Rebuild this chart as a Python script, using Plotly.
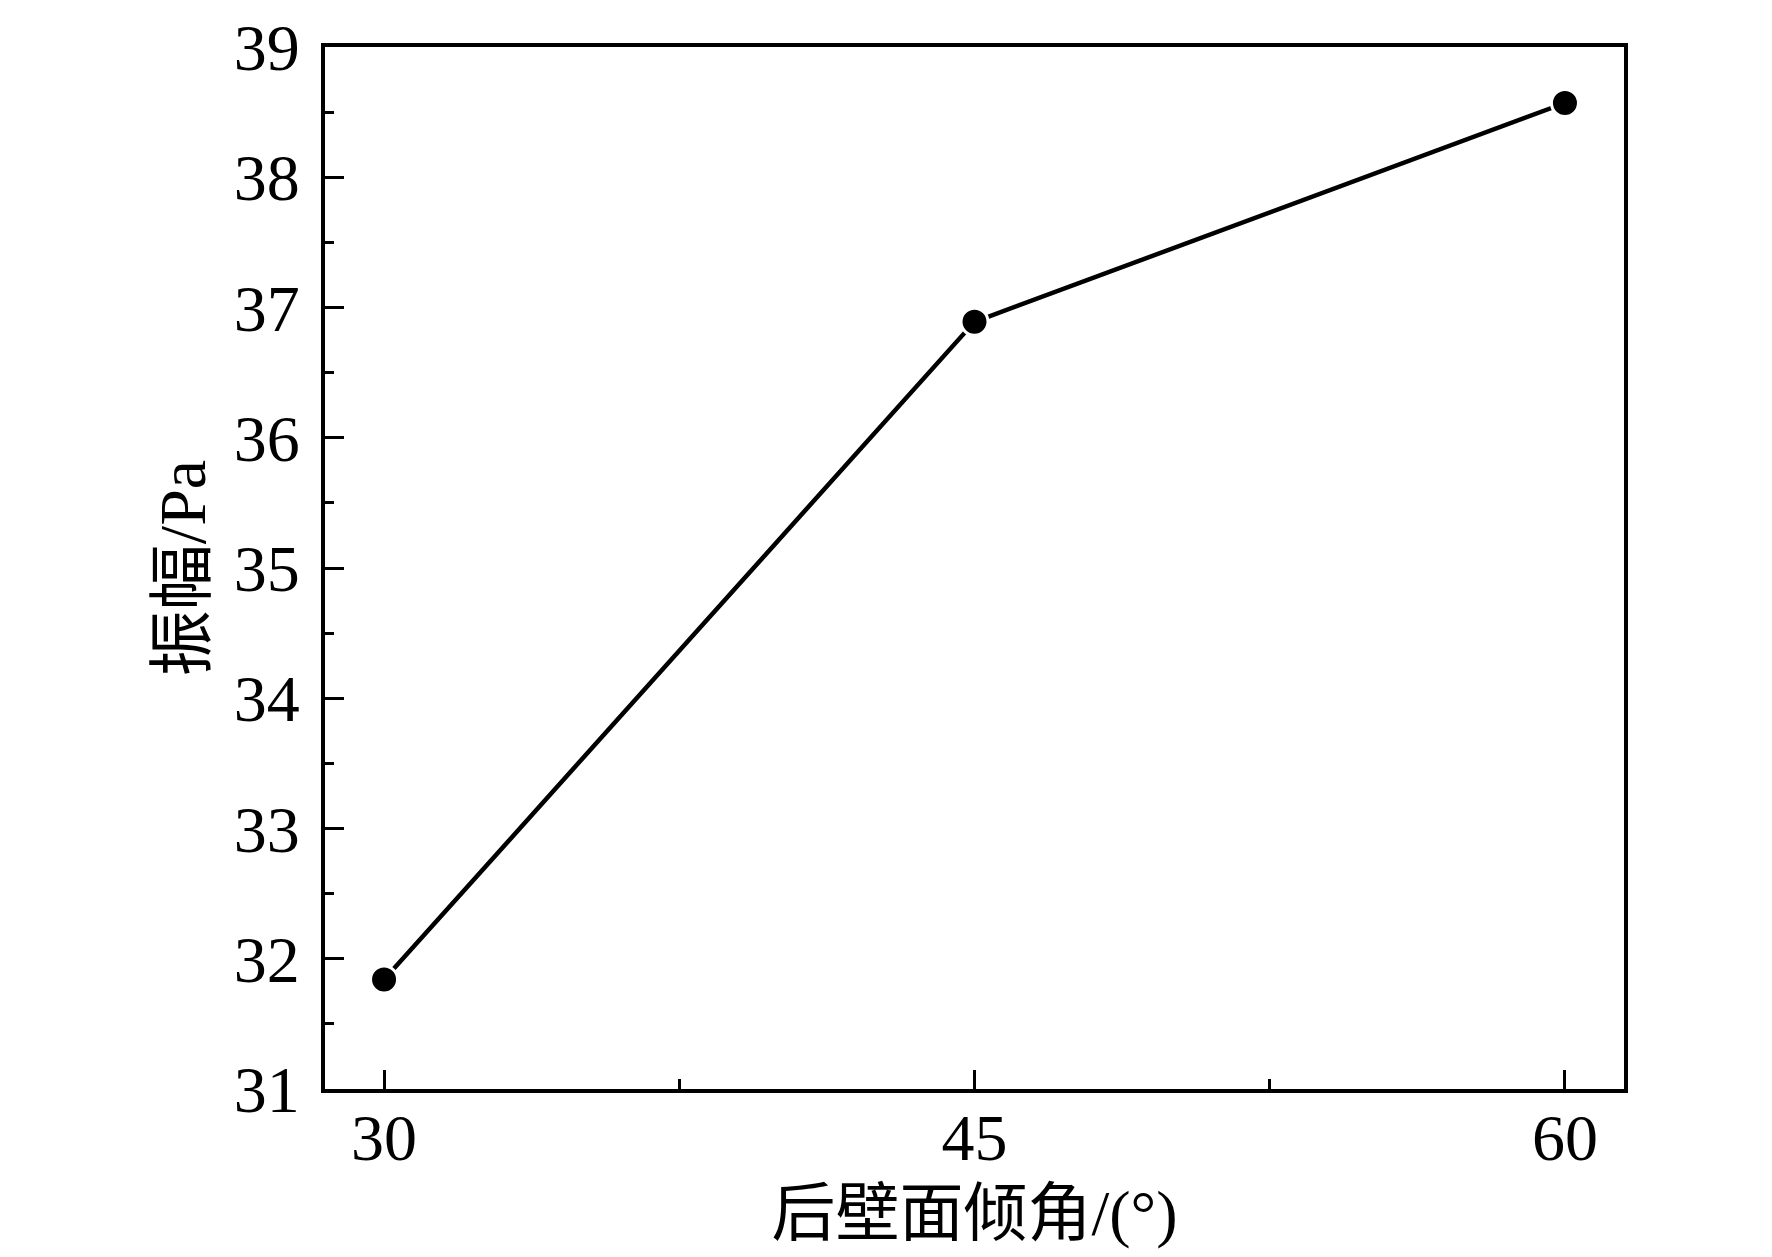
import plotly.graph_objects as go

# 后壁面倾角 vs 振幅
angles = [30, 45, 60]
amplitude = [31.84, 36.89, 38.57]

x_title = '后壁面倾角/(°)'
y_title = '振幅/Pa'

font_family = 'Liberation Serif, Noto Sans CJK SC'

fig = go.Figure()
fig.add_trace(go.Scatter(
    x=angles, y=amplitude,
    mode='lines+markers',
    line=dict(color='black', width=4.5),
    marker=dict(color='black', size=27, line=dict(color='white', width=3)),
    showlegend=False,
))

axis_common = dict(
    showline=True, linecolor='black', linewidth=4, mirror=True,
    showgrid=False, zeroline=False, automargin=False,
    ticks='inside', ticklen=19, tickwidth=3, tickcolor='black',
    ticklabeloverflow='allow',
    tickfont=dict(family=font_family, size=66, color='black'),
)

fig.update_xaxes(
    range=[28.5, 61.5], tick0=30, dtick=15,
    minor=dict(ticks='inside', ticklen=10, tickwidth=3, tickcolor='black', dtick=7.5, tick0=30),
    ticklabelstandoff=-12,
    title=dict(text=x_title, font=dict(family=font_family, size=64, color='black'), standoff=18),
    **axis_common
)
fig.update_yaxes(
    range=[31, 39], tick0=31, dtick=1,
    minor=dict(ticks='inside', ticklen=9, tickwidth=3, tickcolor='black', dtick=0.5, tick0=31),
    ticklabelstandoff=8,
    title=dict(text=y_title, font=dict(family=font_family, size=66, color='black'), standoff=8),
    **axis_common
)

fig.update_layout(
    width=1772, height=1257,
    margin=dict(l=317, r=156, t=39, b=176),
    plot_bgcolor='white', paper_bgcolor='white',
)

fig.write_html('out.html')
